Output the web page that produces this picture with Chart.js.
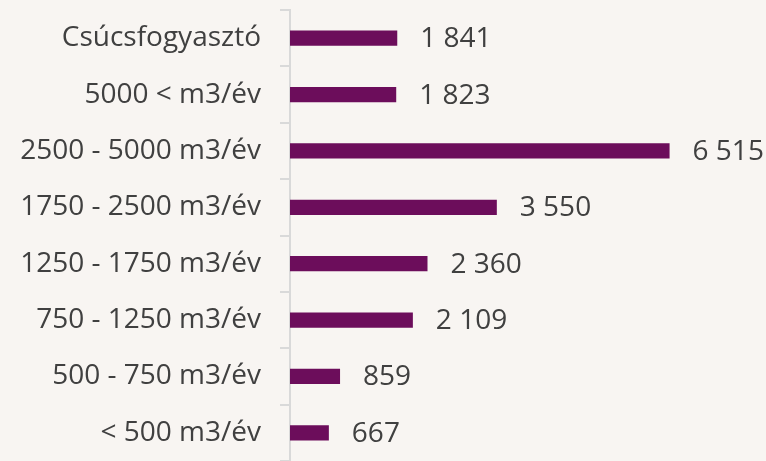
<!DOCTYPE html>
<html>
<head>
<meta charset="utf-8">
<script src="https://cdn.jsdelivr.net/npm/chart.js@4/dist/chart.umd.min.js"></script>
<style>
html,body{margin:0;padding:0;background:#f8f5f2;overflow:hidden;}
#wrap{width:766px;height:461px;position:relative;}
</style>
</head>
<body>
<div id="wrap"><canvas id="c" width="766" height="461"></canvas></div>
<script>
const categories = ["Csúcsfogyasztó", "5000 < m3/év", "2500 - 5000 m3/év", "1750 - 2500 m3/év", "1250 - 1750 m3/év", "750 - 1250 m3/év", "500 - 750 m3/év", "< 500 m3/év"];
const values = [1841, 1823, 6515, 3550, 2360, 2109, 859, 667];

const FONT = "'Open Sans', sans-serif";
const TEXT = '#404040';

function fmt(v){ return String(v).replace(/\B(?=(\d{3})+(?!\d))/g, ' '); }

const valueLabels = {
  id: 'valueLabels',
  afterDatasetsDraw(chart){
    const ctx = chart.ctx;
    const meta = chart.getDatasetMeta(0);
    ctx.save();
    ctx.font = '28px ' + FONT;
    ctx.fillStyle = TEXT;
    ctx.textBaseline = 'middle';
    ctx.textAlign = 'left';
    meta.data.forEach((bar, i) => {
      ctx.fillText(fmt(values[i]), bar.x + 23, bar.y + 1);
    });
    ctx.restore();
  }
};

new Chart(document.getElementById('c'), {
  type: 'bar',
  data: {
    labels: categories,
    datasets: [{
      data: values,
      backgroundColor: '#6c0d5b',
      borderWidth: 0,
      barPercentage: 0.27,
      categoryPercentage: 1
    }]
  },
  options: {
    indexAxis: 'y',
    responsive: false,
    animation: false,
    layout: { padding: { top: 10, right: 0, bottom: 0, left: 0 } },
    plugins: { legend: { display: false }, tooltip: { enabled: false } },
    scales: {
      x: { display: false, min: 0, max: 8170 },
      y: {
        afterFit(s){ s.width = 290; s.paddingTop = 0; s.paddingBottom = 0; },
        grid: { offset: true, drawOnChartArea: false, tickLength: 10, color: '#d9d9d9', lineWidth: 2 },
        border: { color: '#d9d9d9', width: 2 },
        ticks: { color: TEXT, font: { family: FONT, size: 28 }, padding: 19 }
      }
    }
  },
  plugins: [valueLabels]
});
</script>
</body>
</html>
